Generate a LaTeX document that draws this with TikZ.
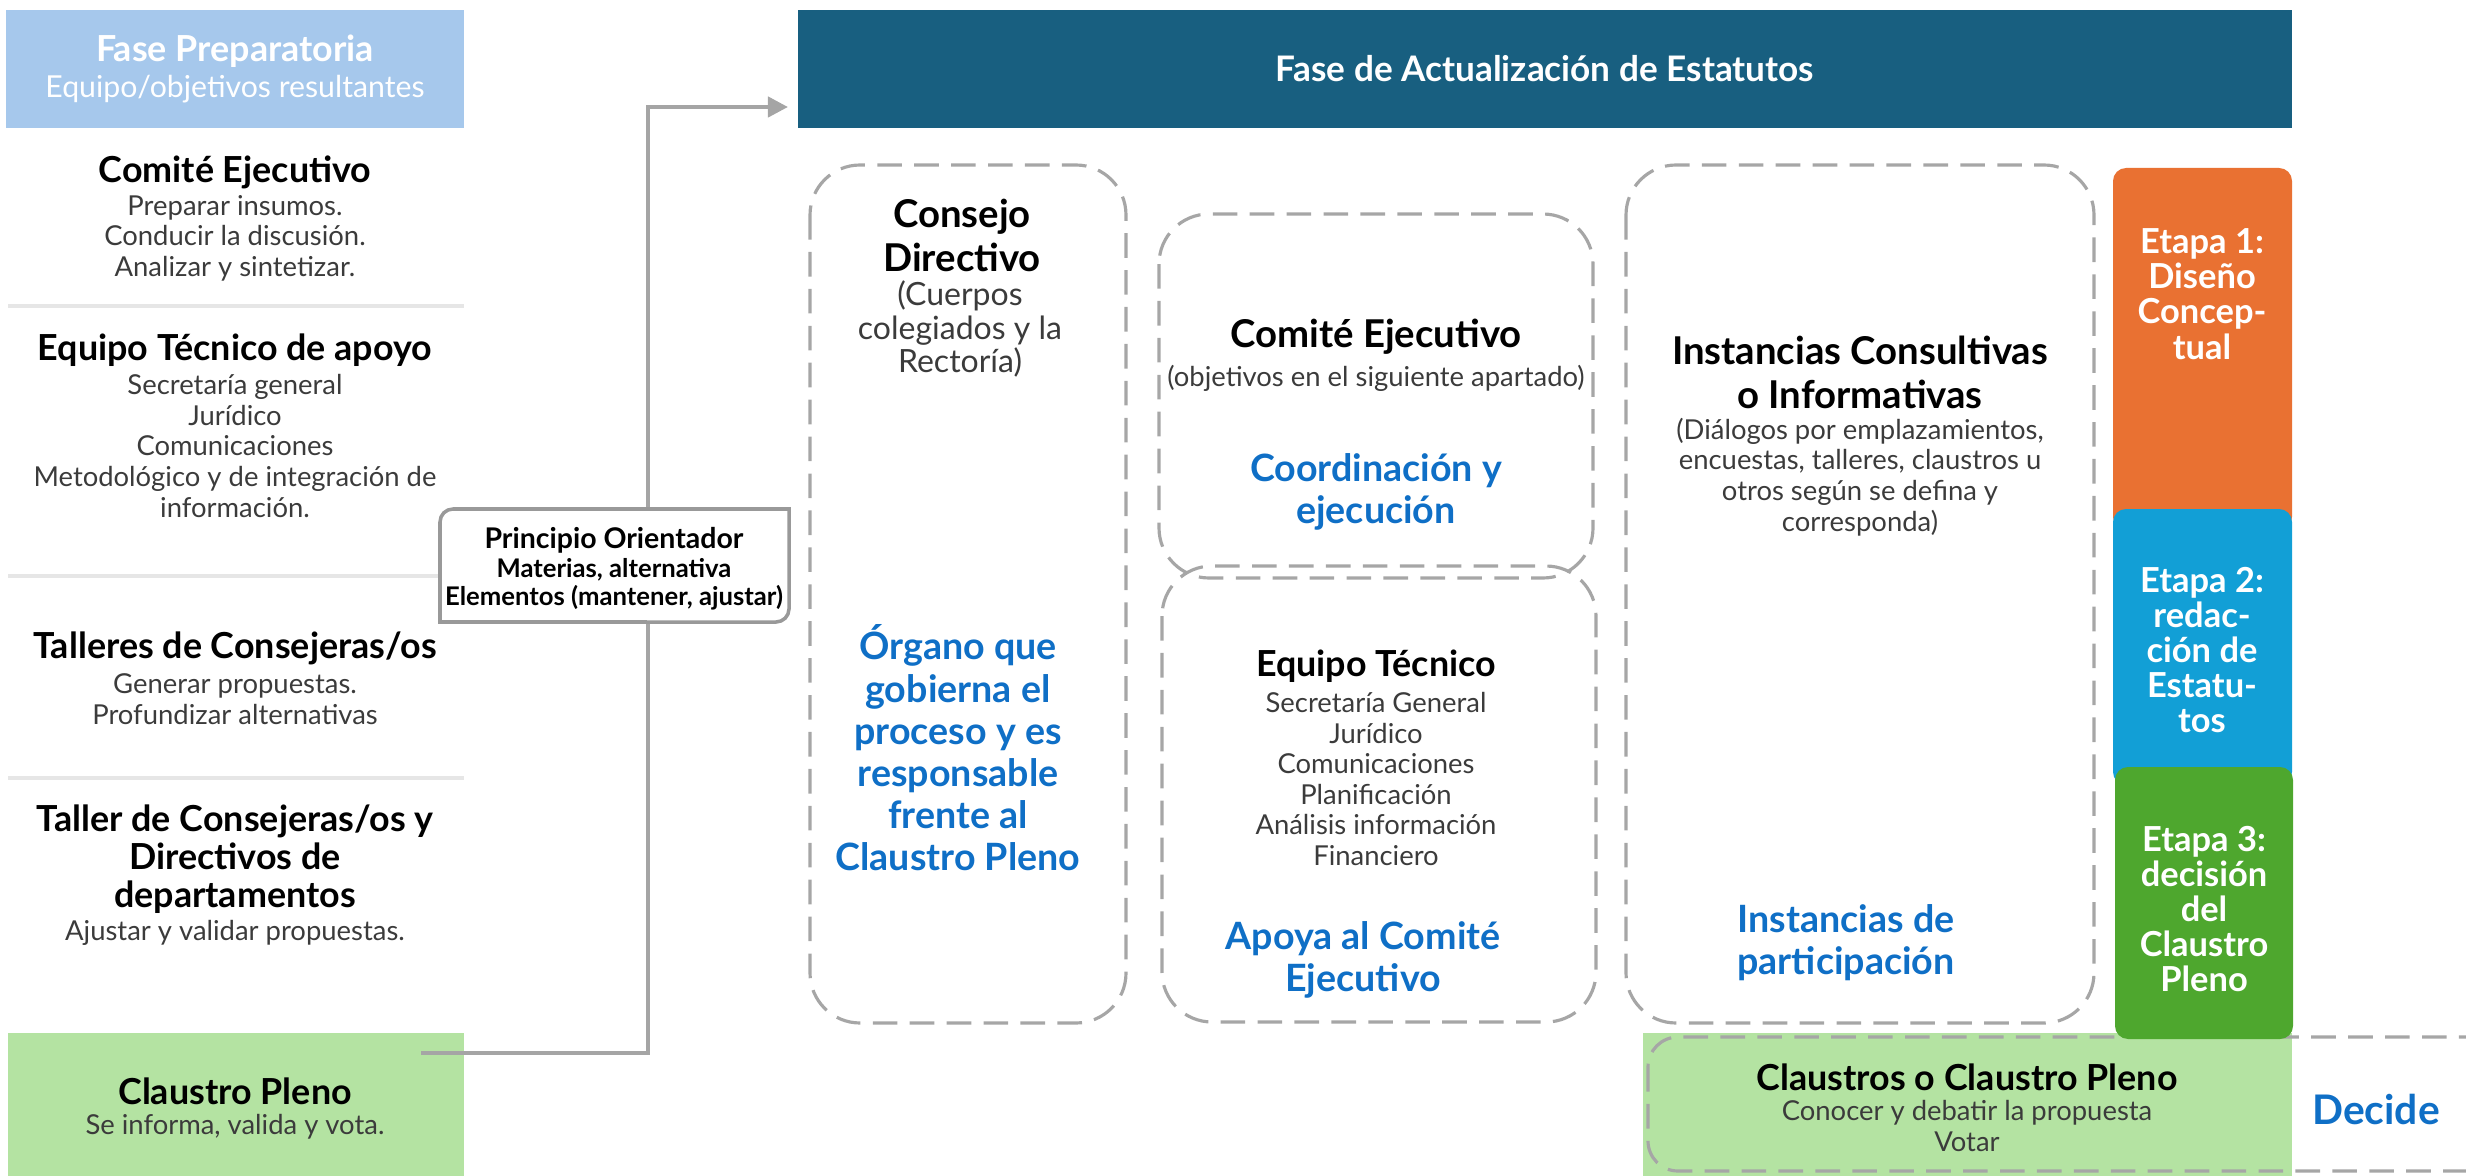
\documentclass[tikz,border=0pt]{standalone}
\usepackage{fontspec}
\setmainfont{Lato}
\usetikzlibrary{arrows.meta}

\definecolor{prepblue}{HTML}{A6C8EC}
\definecolor{actblue}{HTML}{185F80}
\definecolor{etorange}{HTML}{E97132}
\definecolor{etblue}{HTML}{129FD6}
\definecolor{etgreen}{HTML}{4EA72E}
\definecolor{plgreen}{HTML}{B4E3A2}
\definecolor{txtblue}{HTML}{0F6FC6}
\definecolor{dashgray}{HTML}{A6A6A6}
\definecolor{sepgray}{HTML}{E6E6E6}
\definecolor{bodygray}{HTML}{3B3B3B}
\definecolor{arrgray}{HTML}{A5A5A5}

\tikzset{
  dashbox/.style={draw=dashgray, line width=0.9pt, dash pattern=on 7pt off 3.5pt, rounded corners=0.5cm},
  ttl/.style={font=\fontsize{10.2}{10.8}\selectfont\bfseries, align=center, inner sep=0pt},
  bigttl/.style={font=\fontsize{10.9}{12.5}\selectfont\bfseries, align=center, inner sep=0pt},
  txt/.style={font=\fontsize{7.8}{8.7}\selectfont, text=bodygray, align=center, inner sep=0pt},
  bluetxt/.style={font=\fontsize{10.7}{12}\selectfont\bfseries, text=txtblue, align=center, inner sep=0pt},
  etapa/.style={font=\fontsize{9.8}{10}\selectfont\bfseries, text=white, align=center, inner sep=0pt},
  sepline/.style={draw=sepgray, line width=1pt},
  flow/.style={draw=arrgray, line width=1.2pt, -{Triangle[length=0.2cm,width=0.2cm]}},
}

\begin{document}
\begin{tikzpicture}[x=0.01cm, y=-0.01cm]
\useasboundingbox (0,0) rectangle (2466,1176);

%Fase preparatoria
\node[fill=prepblue, minimum width=4.58cm, minimum height=1.18cm, text=white, align=center,
  font=\fontsize{8.6}{10.3}\selectfont] (prep) at (235,69)
  {{\fontsize{10.2}{10.3}\selectfont\bfseries Fase Preparatoria}\\Equipo/objetivos resultantes};

\node[ttl] (ce) at (235,172) {Comité Ejecutivo};
\node[txt] (cetxt) at (235,238) {Preparar insumos.\\Conducir la discusión.\\Analizar y sintetizar.};
\draw[sepline] (8,306) -- (464,306);

\node[ttl] (et) at (235,350) {Equipo Técnico de apoyo};
\node[txt] (ettxt) at (235,446) {Secretaría general\\Jurídico\\Comunicaciones\\Metodológico y de integración de\\información.};
\draw[sepline] (8,576) -- (464,576);

\node[ttl] (tc) at (235,648) {Talleres de Consejeras/os};
\node[txt] (tctxt) at (235,699) {Generar propuestas.\\Profundizar alternativas};
\draw[sepline] (8,778) -- (464,778);

\node[ttl] (td) at (235,859) {Taller de Consejeras/os y\\Directivos de\\departamentos};
\node[txt] (tdtxt) at (235,933) {Ajustar y validar propuestas.};

%Claustro pleno
\fill[plgreen] (8,1033) rectangle (464,1176);
\node[ttl] (cp) at (235,1091) {Claustro Pleno};
\node[txt] (cptxt) at (235,1127) {Se informa, valida y vota.};

%Arrow
\path (421,1053) coordinate (start);
\path (648,107) coordinate (up);
\path (788,107) coordinate (tip);
\draw[flow] (start) -| (up) -- (tip);

%Principio
\filldraw[fill=white, draw=gray!80, line width=1pt] (440,622) -- (440,522)
  arc[start angle=180, end angle=90, radius=0.13cm] -- (789,509) -- (789,609)
  arc[start angle=0, end angle=-90, radius=0.13cm] -- cycle;
\node[font=\fontsize{7.3}{8.1}\selectfont\bfseries, align=center, inner sep=0pt] (princ) at (614,569)
  {{\fontsize{8.1}{8.1}\selectfont Principio Orientador}\\Materias, alternativa\\Elementos (mantener, ajustar)};

%Fase de actualizacion
\node[fill=actblue, minimum width=14.94cm, minimum height=1.18cm, text=white,
  font=\fontsize{10}{11}\selectfont\bfseries] (act) at (1545,69) {Fase de Actualización de Estatutos};

%Boxes
\draw[dashbox] (810,165) rectangle (1126,1023);
\draw[dashbox] (1159,214) rectangle (1593,578);
\draw[dashbox] (1162,566) rectangle (1596,1022);
\draw[dashbox] (1626,165) rectangle (2094,1023);

\node[bigttl] (cd) at (962,235) {Consejo\\Directivo};
\node[txt, font=\fontsize{9.1}{9.5}\selectfont] (cdtxt) at (960,329) {(Cuerpos\\colegiados y la\\Rectoría)};
\node[bluetxt] (cdblue) at (958,748) {Órgano que\\gobierna el\\proceso y es\\responsable\\frente al\\Claustro Pleno};

\node[bigttl] (ce2) at (1376,337) {Comité Ejecutivo};
\node[txt] (ce2txt) at (1376,378) {(objetivos en el siguiente apartado)};
\node[bluetxt] (ce2blue) at (1376,492) {Coordinación y\\ejecución};

\node[ttl] (et2) at (1376,666) {Equipo Técnico};
\node[txt] (et2txt) at (1376,779) {Secretaría General\\Jurídico\\Comunicaciones\\Planificación\\Análisis información\\Financiero};
\node[bluetxt] (et2blue) at (1363,960) {Apoya al Comité\\Ejecutivo};

\node[bigttl] (ic) at (1860,372) {Instancias Consultivas\\o Informativas};
\node[txt] (ictxt) at (1860,477) {(Diálogos por emplazamientos,\\encuestas, talleres, claustros u\\otros según se defina y\\corresponda)};
\node[bluetxt] (icblue) at (1846,943) {Instancias de\\participación};

%Claustros
\fill[plgreen] (1643,1033) rectangle (2292,1176);
\draw[dashbox, rounded corners=0.3cm] (1648,1037) rectangle (2520,1171);
\node[ttl] (cl) at (1967,1077) {Claustros o Claustro Pleno};
\node[txt] (cltxt) at (1967,1126) {Conocer y debatir la propuesta\\Votar};
\node[bluetxt, font=\fontsize{11.6}{12}\selectfont\bfseries] (dec) at (2376,1109) {Decide};

%Etapas
\fill[etorange, rounded corners=0.13cm] (2113,168) rectangle (2292,530);
\fill[etblue, rounded corners=0.13cm] (2113,509) rectangle (2292,785);
\fill[etgreen, rounded corners=0.13cm] (2115,767) rectangle (2293,1039);
\node[etapa] (e1) at (2202,294) {Etapa 1:\\Diseño\\Concep-\\tual};
\node[etapa] (e2) at (2202,650) {Etapa 2:\\redac-\\ción de\\Estatu-\\tos};
\node[etapa] (e3) at (2204,909) {Etapa 3:\\decisión\\del\\Claustro\\Pleno};

\end{tikzpicture}
\end{document}
